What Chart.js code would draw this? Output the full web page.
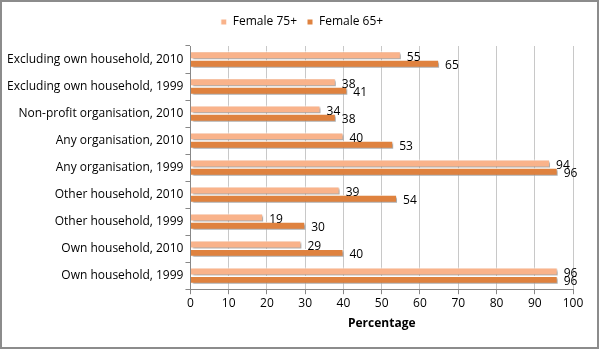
<!DOCTYPE html>
<html><head><meta charset="utf-8">
<script src="https://cdn.jsdelivr.net/npm/chart.js@4"></script>
<style>
html,body{margin:0;padding:0;background:#fff;}
#wrap{position:relative;width:599px;height:349px;box-sizing:border-box;border:2px solid #8c8c8c;}
canvas{display:block;}
</style></head><body>
<div id="wrap"><canvas id="c" width="595" height="345"></canvas></div>
<script>
const categories = ["Excluding own household, 2010","Excluding own household, 1999","Non-profit organisation, 2010","Any organisation, 2010","Any organisation, 1999","Other household, 2010","Other household, 1999","Own household, 2010","Own household, 1999"];
const female75 = [55,38,34,40,94,39,19,29,96];
const female65 = [65,41,38,53,96,54,30,40,96];
const xTicks = [0,10,20,30,40,50,60,70,80,90,100];

const FONT = "'Open Sans', sans-serif";
const labelPlugin = {
  id:'labels',
  afterDatasetsDraw(chart){
    const ctx = chart.ctx;
    ctx.save();
    ctx.font = "12px " + FONT;
    ctx.fillStyle = '#000';
    ctx.textBaseline = 'middle';
    chart.data.datasets.forEach((ds,di)=>{
      chart.getDatasetMeta(di).data.forEach((bar,i)=>{
        ctx.fillText(String(ds.data[i]), bar.x + 6, bar.y + 2);
      });
    });
    ctx.restore();
  }
};
const shadowPlugin = {
  id:'shadow',
  beforeDatasetsDraw(chart){ chart.ctx.save(); chart.ctx.shadowColor='rgba(0,0,0,0.35)'; chart.ctx.shadowOffsetX=2; chart.ctx.shadowOffsetY=2; chart.ctx.shadowBlur=2; },
  afterDatasetsDraw(chart){ chart.ctx.restore(); }
};
const legendTweak = {
  id:'legendTweak',
  beforeInit(chart){
    const lg = chart.legend;
    const fit = lg.fit;
    lg.fit = function(){ fit.call(this); this.height += 9; };
    const draw = lg.draw;
    lg.draw = function(){ chart.ctx.save(); chart.ctx.translate(13,1); draw.call(this); chart.ctx.restore(); };
  }
};

new Chart(document.getElementById('c'), {
  type:'bar',
  data:{
    labels: categories,
    datasets:[
      {label:'Female 75+', data:female75, backgroundColor:'#F9B38B', borderColor:'#ffffff', borderWidth:1, categoryPercentage:0.62, barPercentage:0.95},
      {label:'Female 65+', data:female65, backgroundColor:'#DF823F', borderColor:'#ffffff', borderWidth:1, categoryPercentage:0.62, barPercentage:0.95}
    ]
  },
  options:{
    indexAxis:'y',
    responsive:false,
    animation:false,
    devicePixelRatio:1,
    layout:{padding:{top:3,right:24,left:3,bottom:12}},
    plugins:{
      legend:{position:'top', labels:{font:{family:FONT,size:12}, color:'#000', boxWidth:6, boxHeight:6, padding:10}},
      tooltip:{enabled:false}
    },
    scales:{
      x:{min:0,max:100,
        afterBuildTicks(ax){ ax.ticks = xTicks.map(v=>({value:v})); },
        ticks:{font:{family:FONT,size:12}, color:'#000', padding:2},
        grid:{color:'#c8c8c8', tickLength:5, tickColor:'#888'},
        border:{color:'#888'},
        title:{display:true,text:'Percentage',font:{family:FONT,size:12,weight:'bold'},color:'#000',padding:{top:4}}
      },
      y:{
        ticks:{font:{family:FONT,size:12}, color:'#000', padding:2},
        grid:{drawOnChartArea:false, tickLength:5, color:'#888', offset:true},
        border:{color:'#888'}
      }
    }
  },
  plugins:[legendTweak,shadowPlugin,labelPlugin]
});
</script></body></html>
